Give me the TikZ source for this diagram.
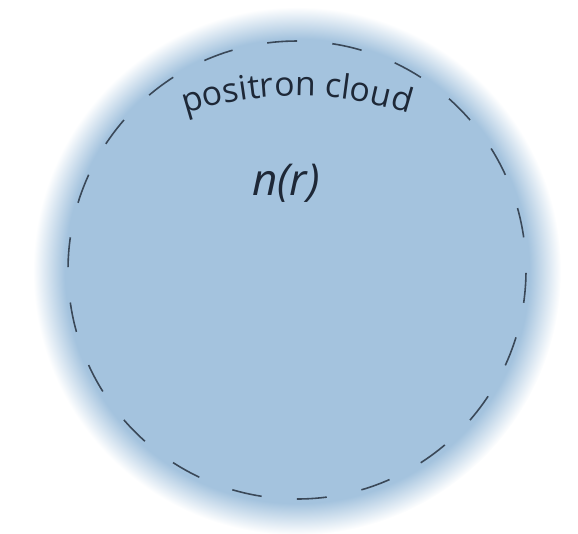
\documentclass[tikz,border=0pt]{standalone}
\usepackage{fontspec}
\setmainfont{Open Sans}
\usepackage{xcolor}
\usepackage{tikz}
\usetikzlibrary{decorations.text}
\definecolor{cloudblue}{RGB}{164,195,222}
\definecolor{shellgray}{RGB}{58,72,88}
\definecolor{inkblue}{RGB}{30,40,55}
\pgfdeclareradialshading{cloudfade}{\pgfpoint{0bp}{0bp}}{color(0bp)=(cloudblue); color(22bp)=(cloudblue); color(25bp)=(white); color(50bp)=(white)}

\begin{document}
\begin{tikzpicture}[
    cloud_disc/.style={shading=cloudfade},
    shell_line/.style={draw=shellgray, line width=0.45pt, dash pattern=on 0.30cm off 0.354cm, dash phase=0.327cm},
    density_text/.style={font=\fontsize{12.5}{15}\selectfont\itshape, text=inkblue, inner sep=0pt}
]
\useasboundingbox (0,0) rectangle (5.78,5.33);

\coordinate (cen)  at (2.97,2.62);
\coordinate (shc)  at (2.97,2.63);
\coordinate (arcc) at (2.97,0.73);

% the cloud and its dashed shell
\shade [cloud_disc] (cen) circle (2.64);
\draw [shell_line] (shc) circle (2.29);

\path [decorate, decoration={text along path, text align=center, text color=inkblue,
    text={|\fontsize{9.6}{11}\selectfont|positron cloud}}]
    ([shift={(120:3.64)}]arcc) arc[start angle=120, end angle=60, radius=3.64];

\node (density) [density_text] at (2.86,3.50) {n(r)};

\end{tikzpicture}
\end{document}
